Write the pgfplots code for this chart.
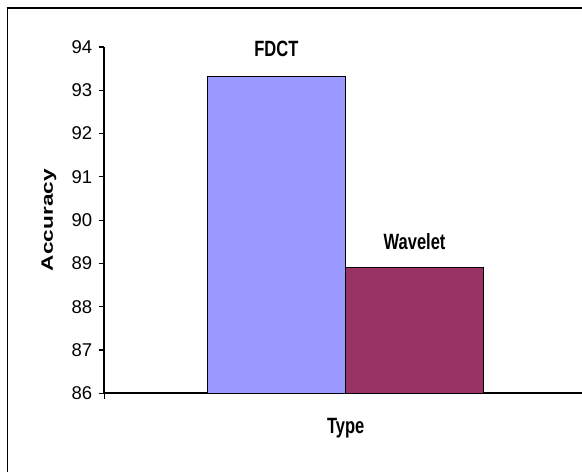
\documentclass[border=0pt]{standalone}
\usepackage{pgfplots}
\pgfplotsset{compat=1.18}
\usepackage{graphicx}
\usepackage{fontspec}
\setmainfont{Liberation Sans}
\definecolor{fdct}{HTML}{9999FF}
\definecolor{wav}{HTML}{993366}
\newcommand{\lbl}[1]{\scalebox{1}[1.34]{\fontsize{16.5}{18}\selectfont\bfseries #1}}
\begin{document}
\begin{tikzpicture}
\path[use as bounding box] (0,0) rectangle (582pt,472pt);
\clip (0,0) rectangle (582pt,472pt);
\fill[white] (0,0) rectangle (582pt,472pt);
\draw[line width=1.3pt] (7.3pt,-5pt) -- (7.3pt,464pt);
\draw[line width=2pt] (6.65pt,464pt) -- (600pt,464pt);
\begin{axis}[
  at={(104.3pt,78.7pt)}, anchor=south west,
  scale only axis, width=482.7pt, height=346.3pt,
  xmin=0, xmax=482.7, ymin=86, ymax=94,
  axis lines*=left, axis line style={-, line width=1.6pt},
  ybar=0pt, bar width=138.2,
  ytick={86,87,...,94}, xtick={0}, xticklabels={},
  tick align=outside, major tick length=5.5pt,
  tick style={black, line width=1.2pt},
  /pgf/number format/assume math mode=true,
  yticklabel style={font=\fontsize{18.5}{20}\selectfont, xshift=-3pt},
  ylabel={\scalebox{1.37}[1]{\fontsize{16.5}{18}\selectfont\bfseries Accuracy}},
  ylabel style={at={(axis description cs:-0.1146,0.5)}, anchor=center},
  xlabel={\lbl{Type}},
  xlabel style={at={(axis description cs:0.5,-0.1175)}, anchor=base, inner sep=0pt},
  every node near coord/.append style={anchor=base, inner sep=0pt, black},
]
\addplot[fill=fdct, draw=black, line width=1.2pt,
  nodes near coords={\lbl{FDCT}},
  every node near coord/.append style={yshift=20pt}]
  coordinates {(241.2,93.31)};
\addplot[fill=wav, draw=black, line width=1.2pt,
  nodes near coords={\lbl{Wavelet}},
  every node near coord/.append style={yshift=18pt}]
  coordinates {(241.2,88.9)};
\end{axis}
\end{tikzpicture}
\end{document}
